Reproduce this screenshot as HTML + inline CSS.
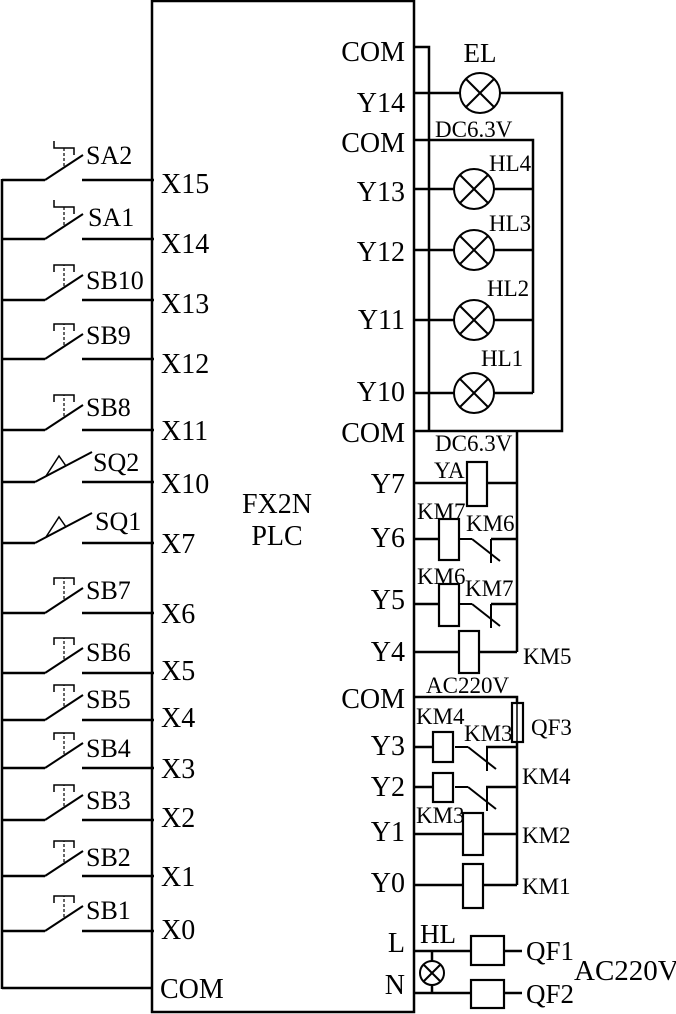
<!DOCTYPE html>
<html><head><meta charset="utf-8"><style>
html,body{margin:0;padding:0;background:#fff}
svg{display:block}
text{font-family:"Liberation Serif",serif;fill:#000}
</style></head><body>
<svg width="676" height="1014" viewBox="0 0 676 1014" xmlns="http://www.w3.org/2000/svg">
<defs>
<g id="pb" stroke="#000" fill="none">
<line x1="0" y1="0" x2="43" y2="0" stroke-width="2.5"/>
<line x1="43" y1="0" x2="81" y2="-25" stroke-width="2"/>
<line x1="80" y1="0" x2="152" y2="0" stroke-width="2.5"/>
<line x1="62" y1="-14" x2="62" y2="-35" stroke-width="1.2" stroke-dasharray="3,2"/>
<polyline points="52,-28 52,-35 72,-35 72,-28" stroke-width="1.5"/>
</g>
<g id="sa" stroke="#000" fill="none">
<line x1="0" y1="0" x2="43" y2="0" stroke-width="2.5"/>
<line x1="43" y1="0" x2="81" y2="-25" stroke-width="2"/>
<line x1="80" y1="0" x2="152" y2="0" stroke-width="2.5"/>
<line x1="62" y1="-14" x2="62" y2="-32" stroke-width="1.2" stroke-dasharray="3,2"/>
<polyline points="52,-39 52,-32 72,-32 72,-25" stroke-width="1.5"/>
</g>
<g id="sq" stroke="#000" fill="none">
<line x1="0" y1="0" x2="33" y2="0" stroke-width="2.5"/>
<line x1="33" y1="0" x2="90" y2="-30" stroke-width="2"/>
<polyline points="44,-6 57,-26 64,-16" stroke-width="1.5"/>
<line x1="80" y1="0" x2="152" y2="0" stroke-width="2.5"/>
</g>
<g id="lamp" stroke="#000" fill="none" stroke-width="2">
<circle cx="0" cy="0" r="20" fill="#fff"/>
<line x1="-14" y1="-14" x2="14" y2="14"/><line x1="-14" y1="14" x2="14" y2="-14"/>
</g>
<g id="nc" stroke="#000" fill="none" stroke-width="2">
<line x1="0" y1="0" x2="13" y2="0"/>
<line x1="13" y1="0" x2="41" y2="22"/>
<line x1="32" y1="0" x2="32" y2="24"/>
</g>
</defs>

<rect x="152" y="1" width="262" height="1011" fill="none" stroke="#000" stroke-width="2.5"/>
<line x1="2" y1="179" x2="2" y2="989" stroke="#000" stroke-width="2.5"/>
<use href="#sa" x="2" y="180"/>
<use href="#sa" x="2" y="239"/>
<use href="#pb" x="2" y="300"/>
<use href="#pb" x="2" y="359"/>
<use href="#pb" x="2" y="430"/>
<use href="#sq" x="2" y="482"/>
<use href="#sq" x="2" y="543"/>
<use href="#pb" x="2" y="613"/>
<use href="#pb" x="2" y="673"/>
<use href="#pb" x="2" y="720"/>
<use href="#pb" x="2" y="768"/>
<use href="#pb" x="2" y="820"/>
<use href="#pb" x="2" y="876"/>
<use href="#pb" x="2" y="931"/>
<line x1="2" y1="988" x2="152" y2="988" stroke="#000" stroke-width="2.5"/>

<g font-size="26">
<text x="86" y="164">SA2</text>
<text x="88" y="226">SA1</text>
<text x="86" y="289">SB10</text>
<text x="86" y="344">SB9</text>
<text x="86" y="416">SB8</text>
<text x="93" y="471">SQ2</text>
<text x="95" y="530">SQ1</text>
<text x="86" y="599">SB7</text>
<text x="86" y="661">SB6</text>
<text x="86" y="708">SB5</text>
<text x="86" y="757">SB4</text>
<text x="86" y="809">SB3</text>
<text x="86" y="866">SB2</text>
<text x="86" y="919">SB1</text>
</g>
<g font-size="28">
<text x="161" y="193">X15</text>
<text x="161" y="253">X14</text>
<text x="161" y="313">X13</text>
<text x="161" y="373">X12</text>
<text x="161" y="440">X11</text>
<text x="161" y="493">X10</text>
<text x="161" y="553">X7</text>
<text x="161" y="623">X6</text>
<text x="161" y="680">X5</text>
<text x="161" y="727">X4</text>
<text x="161" y="778">X3</text>
<text x="161" y="827">X2</text>
<text x="161" y="886">X1</text>
<text x="161" y="939">X0</text>
<text x="160" y="998">COM</text>
<text x="277" y="513" text-anchor="middle">FX2N</text>
<text x="277" y="545" text-anchor="middle">PLC</text>
</g>
<g font-size="28" text-anchor="end">
<text x="405" y="61">COM</text>
<text x="405" y="112">Y14</text>
<text x="405" y="152">COM</text>
<text x="405" y="201">Y13</text>
<text x="405" y="261">Y12</text>
<text x="405" y="329">Y11</text>
<text x="405" y="401">Y10</text>
<text x="405" y="442">COM</text>
<text x="405" y="493">Y7</text>
<text x="405" y="547">Y6</text>
<text x="405" y="609">Y5</text>
<text x="405" y="661">Y4</text>
<text x="405" y="708">COM</text>
<text x="405" y="755">Y3</text>
<text x="405" y="796">Y2</text>
<text x="405" y="841">Y1</text>
<text x="405" y="892">Y0</text>
<text x="405" y="952">L</text>
<text x="405" y="994">N</text>
</g>

<g stroke="#000" fill="none" stroke-width="2.5">
<polyline points="414,47 429,47 429,431"/>
<polyline points="414,93 562,93 562,431 414,431"/>
<polyline points="414,140 533,140 533,393"/>
<line x1="414" y1="189" x2="533" y2="189"/>
<line x1="414" y1="250" x2="533" y2="250"/>
<line x1="414" y1="320" x2="533" y2="320"/>
<line x1="414" y1="393" x2="533" y2="393"/>
<line x1="517" y1="431" x2="517" y2="652"/>
<line x1="414" y1="483" x2="517" y2="483"/>
<line x1="414" y1="539" x2="439" y2="539"/>
<line x1="491" y1="539" x2="517" y2="539"/>
<line x1="414" y1="604" x2="439" y2="604"/>
<line x1="491" y1="604" x2="517" y2="604"/>
<line x1="414" y1="652" x2="517" y2="652"/>
<polyline points="414,697 517,697 517,885"/>
<line x1="414" y1="747" x2="433" y2="747"/>
<line x1="486" y1="747" x2="517" y2="747"/>
<line x1="414" y1="787" x2="433" y2="787"/>
<line x1="486" y1="787" x2="517" y2="787"/>
<line x1="414" y1="834" x2="517" y2="834"/>
<line x1="414" y1="885" x2="517" y2="885"/>
<line x1="414" y1="951" x2="522" y2="951"/>
<line x1="414" y1="993" x2="522" y2="993"/>
<line x1="432" y1="951" x2="432" y2="993"/>
</g>
<use href="#lamp" x="480" y="93"/>
<use href="#lamp" x="474" y="189"/>
<use href="#lamp" x="474" y="250"/>
<use href="#lamp" x="474" y="320"/>
<use href="#lamp" x="474" y="393"/>
<g stroke="#000" fill="none" stroke-width="2">
<circle cx="432" cy="973" r="12" fill="#fff"/>
<line x1="424" y1="965" x2="440" y2="981"/><line x1="424" y1="981" x2="440" y2="965"/>
</g>
<use href="#nc" x="459" y="539"/>
<use href="#nc" x="459" y="604"/>
<use href="#nc" x="455" y="747"/>
<use href="#nc" x="455" y="787"/>
<g stroke="#000" fill="#fff" stroke-width="2.2">
<rect x="467" y="462" width="20" height="44"/>
<rect x="439" y="519" width="20" height="41"/>
<rect x="439" y="584" width="20" height="42"/>
<rect x="459" y="631" width="20" height="42"/>
<rect x="433" y="732" width="20" height="30"/>
<rect x="433" y="773" width="20" height="29"/>
<rect x="463" y="813" width="20" height="42"/>
<rect x="463" y="864" width="20" height="44"/>
<rect x="512" y="703" width="11" height="39"/>
<rect x="471" y="936" width="33" height="29"/>
<rect x="471" y="980" width="33" height="28"/>
</g>
<line x1="517" y1="703" x2="517" y2="742" stroke="#000" stroke-width="1.5"/>

<g font-size="27">
<text x="480" y="62" text-anchor="middle">EL</text>
<text x="420" y="943">HL</text>
<text x="526" y="960">QF1</text>
<text x="526" y="1003">QF2</text>
<text x="574" y="980" font-size="29">AC220V</text>
</g>
<g font-size="23">
<text x="435" y="137">DC6.3V</text>
<text x="489" y="171">HL4</text>
<text x="489" y="231">HL3</text>
<text x="487" y="296">HL2</text>
<text x="481" y="366">HL1</text>
<text x="435" y="451">DC6.3V</text>
<text x="434" y="478">YA</text>
<text x="417" y="519">KM7</text>
<text x="466" y="531">KM6</text>
<text x="417" y="584">KM6</text>
<text x="465" y="596">KM7</text>
<text x="523" y="664">KM5</text>
<text x="426" y="693">AC220V</text>
<text x="416" y="724">KM4</text>
<text x="464" y="741">KM3</text>
<text x="531" y="735">QF3</text>
<text x="522" y="784">KM4</text>
<text x="416" y="823">KM3</text>
<text x="522" y="843">KM2</text>
<text x="522" y="894">KM1</text>
</g>
</svg>
</body></html>
